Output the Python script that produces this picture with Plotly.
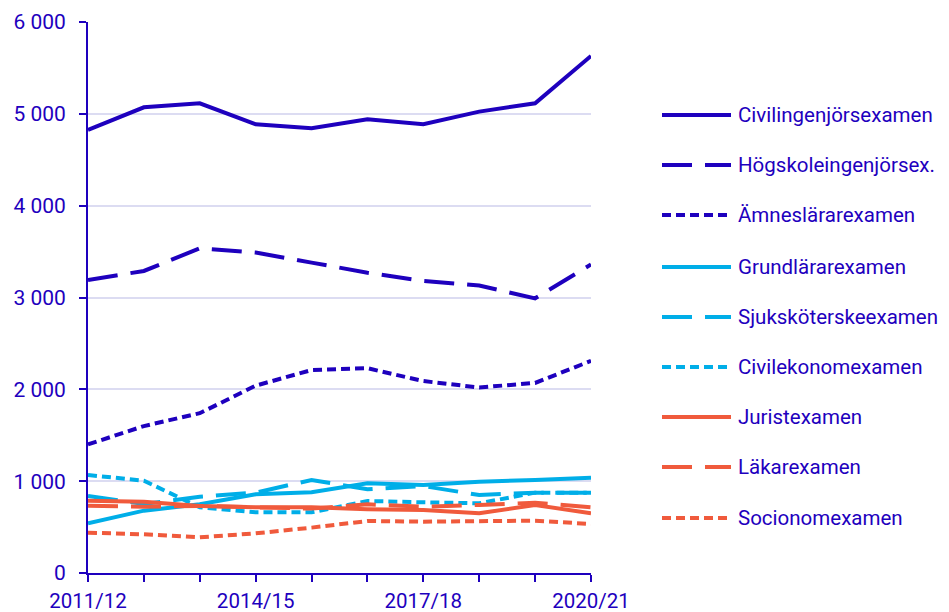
import plotly.graph_objects as go

years = ["2011/12", "2012/13", "2013/14", "2014/15", "2015/16",
         "2016/17", "2017/18", "2018/19", "2019/20", "2020/21"]
tick_labels = ["2011/12", "", "", "2014/15", "", "", "2017/18", "", "", "2020/21"]

civilingenjor = [4824, 5071, 5115, 4886, 4842, 4940, 4886, 5024, 5115, 5630]
hogskoleingenjor = [3191, 3289, 3536, 3490, 3380, 3270, 3180, 3130, 2991, 3360]
amneslarare = [1400, 1600, 1740, 2040, 2210, 2230, 2090, 2020, 2070, 2310]
grundlarare = [541, 679, 748, 857, 879, 977, 958, 994, 1013, 1038]
sjukskoterske = [838, 751, 831, 875, 1013, 911, 947, 849, 875, 875]
civilekonom = [1067, 1005, 715, 661, 661, 784, 770, 759, 875, 875]
jurist = [788, 777, 730, 715, 715, 694, 686, 650, 741, 650]
lakare = [733, 722, 730, 715, 701, 748, 722, 741, 766, 715]
socionom = [439, 421, 388, 432, 494, 566, 559, 566, 570, 534]

names = ["Civilingenjörsexamen", "Högskoleingenjörsex.", "Ämneslärarexamen",
         "Grundlärarexamen", "Sjuksköterskeexamen", "Civilekonomexamen",
         "Juristexamen", "Läkarexamen", "Socionomexamen"]
series = [civilingenjor, hogskoleingenjor, amneslarare, grundlarare,
          sjukskoterske, civilekonom, jurist, lakare, socionom]

DARK = "#1e00be"
LIGHT = "#00aee8"
RED = "#f05a3c"
colors = [DARK, DARK, DARK, LIGHT, LIGHT, LIGHT, RED, RED, RED]
SOLID, LONG, DOT = "solid", "30px,13px", "9px,5px"
dashes = [SOLID, LONG, DOT] * 3

fig = go.Figure()
for name, vals, c, d in zip(names, series, colors, dashes):
    fig.add_trace(go.Scatter(x=years, y=vals, name=name, mode="lines",
                             line=dict(color=c, width=4, dash=d),
                             showlegend=False))

# page has an 8px body margin: work in figure coordinates
OFF = 8
FW, FH = 949 - OFF, 612 - OFF
L, R, T, B = 88 - OFF, 591 - OFF, 22 - OFF, 573 - OFF
W, H = R - L, B - T
legend_y = [115, 165, 215, 267, 317, 367, 417, 467, 518]
for name, c, d, py in zip(names, colors, dashes, legend_y):
    yp = (B - (py - OFF)) / H
    fig.add_shape(type="line", xref="paper", yref="paper",
                  x0=(662 - OFF - L) / W, x1=(731 - OFF - L) / W, y0=yp, y1=yp,
                  line=dict(color=c, width=4, dash=d))
    fig.add_annotation(xref="paper", yref="paper", x=(736 - OFF - L) / W, y=yp,
                       xanchor="left", yanchor="middle", showarrow=False,
                       text=name, font=dict(family="Roboto", size=20.5, color=DARK))

fig.update_layout(
    width=FW, height=FH,
    margin=dict(l=L, r=FW - R, t=T, b=FH - B),
    paper_bgcolor="white", plot_bgcolor="white",
    separators=", ",
    font=dict(family="Roboto", size=21, color=DARK),
    showlegend=False,
)
fig.update_xaxes(type="category", range=[0, 9], tickmode="array",
                 tickvals=years, ticktext=tick_labels, automargin=False,
                 showgrid=False, showline=True, linecolor=DARK, linewidth=2,
                 ticks="outside", ticklen=7, tickwidth=2, tickcolor=DARK,
                 ticklabelstandoff=1,
                 tickfont=dict(family="Roboto", size=20.5, color=DARK))
fig.update_yaxes(range=[0, 6000], tickvals=[0, 1000, 2000, 3000, 4000, 5000, 6000],
                 tickformat=",d", showgrid=True, gridcolor="#dcdcf2", gridwidth=1.5,
                 showline=True, linecolor=DARK, linewidth=2, zeroline=False,
                 automargin=False, ticklabelstandoff=9,
                 ticks="outside", ticklen=7, tickwidth=2, tickcolor=DARK,
                 tickfont=dict(family="Roboto", size=21, color=DARK))

fig.write_html("out.html")
